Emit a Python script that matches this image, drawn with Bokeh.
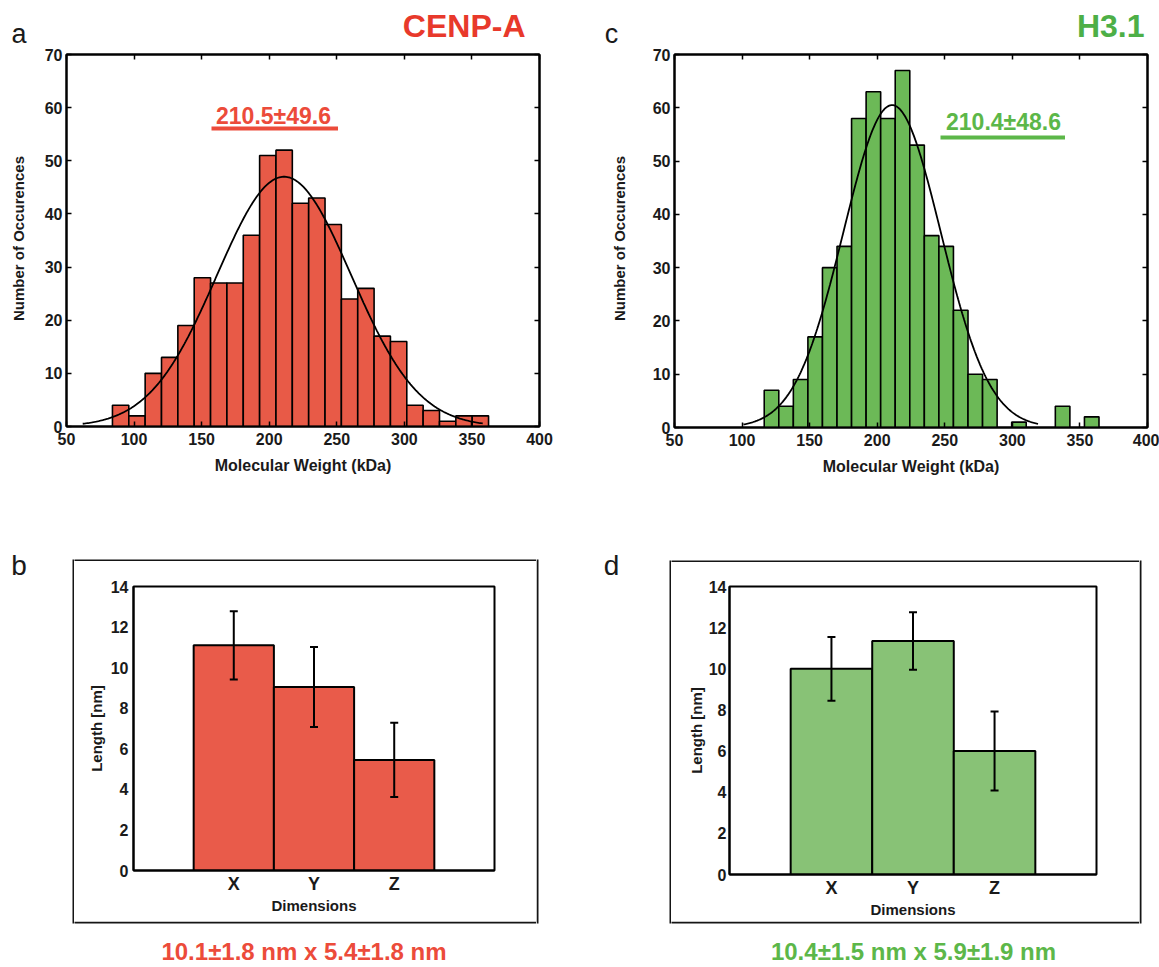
import numpy as np
from bokeh.plotting import figure
from bokeh.layouts import column, row
from bokeh.models import (Range1d, LinearAxis, FixedTicker,
                          ColumnDataSource, Whisker, TeeHead)
from bokeh.core.properties import value
from bokeh.embed import file_html
from bokeh.resources import INLINE

# ---------------- data ----------------
mw_ticks = [50, 100, 150, 200, 250, 300, 350, 400]
count_ticks = [0, 10, 20, 30, 40, 50, 60, 70]

cenpa_counts = [4, 2, 10, 13, 19, 28, 27, 27, 36, 51, 52, 42, 43, 38, 24, 26, 17, 16, 4, 3, 1, 2, 2]
cenpa_bin_start = 84.0
cenpa_bin_width = 12.1
cenpa_fit_center = 211.0
cenpa_fit_sigma = 49.6
cenpa_fit_peak = 47.0
cenpa_fit_span = [62.0, 358.0]
cenpa_stat = "210.5±49.6"

h31_counts = [7, 4, 9, 17, 30, 34, 58, 63, 58, 67, 53, 36, 34, 22, 10, 9, 0, 1, 0, 0, 4, 0, 2]
h31_bin_start = 116.4
h31_bin_width = 10.77
h31_fit_center = 211.0
h31_fit_sigma = 36.0
h31_fit_peak = 60.5
h31_fit_span = [101.0, 319.0]
h31_stat = "210.4±48.6"

dimensions = ["X", "Y", "Z"]
length_ticks = [0, 2, 4, 6, 8, 10, 12, 14]
cenpa_length = [11.1, 9.05, 5.45]
cenpa_length_err = [1.68, 1.97, 1.83]
h31_length = [10.0, 11.35, 6.0]
h31_length_err = [1.55, 1.4, 1.92]
cenpa_caption = "10.1±1.8 nm x 5.4±1.8 nm"
h31_caption = "10.4±1.5 nm x 5.9±1.9 nm"

# ---------------- style ----------------
FONT = "Liberation Sans"
INK = "#1a1a1a"
BOX = "#151515"
RED_HIST = "#E85A47"
GREEN_HIST = "#6CB957"
RED_BAR = "#E95B4A"
GREEN_BAR = "#88C276"
RED_TITLE = "#E8392B"
GREEN_TITLE = "#4DAF47"
RED_TEXT = "#EC4B3A"
GREEN_TEXT = "#5CB749"


def no_align(p):
    try:
        p.frame_align = False
    except Exception:
        pass
    return p


def new_fig(origin, size, box, xr, yr):
    ox, oy = origin
    W, H = size
    l, t, r, b = box
    p = figure(width=W, height=H, x_range=Range1d(*xr), y_range=Range1d(*yr),
               output_backend="svg", toolbar_location=None,
               min_border_left=int(l - ox), min_border_right=int(ox + W - r),
               min_border_top=int(t - oy), min_border_bottom=int(oy + H - b))
    no_align(p)
    p.grid.visible = False
    p.outline_line_color = "black"
    p.outline_line_width = 2
    p.background_fill_color = "white"
    p.border_fill_color = "white"

    def fx(px):
        return xr[0] + (px - l) / (r - l) * (xr[1] - xr[0])

    def fy(py):
        return yr[0] + (b - py) / (b - t) * (yr[1] - yr[0])
    return p, fx, fy


def text_panel(origin, size):
    """A bare panel whose data coordinates are page pixels (y downwards)."""
    ox, oy = origin
    W, H = size
    p = figure(width=W, height=H, x_range=Range1d(ox, ox + W), y_range=Range1d(oy + H, oy),
               output_backend="svg", toolbar_location=None,
               x_axis_type=None, y_axis_type=None, min_border=0)
    no_align(p)
    p.grid.visible = False
    p.outline_line_color = None
    p.background_fill_color = "white"
    p.border_fill_color = "white"
    return p


def put_text(p, x, y, txt, size, color=INK, bold=False, align="left", angle=0.0):
    p.text(x=[x], y=[y], text=[txt], text_font=value(FONT), angle=angle,
           text_font_style="bold" if bold else "normal", text_font_size=size,
           text_color=color, text_align=align, text_baseline="middle")


def put_rule(p, x0, y0, x1, y1):
    p.segment(x0=[x0], y0=[y0], x1=[x1], y1=[y1], line_color=BOX, line_width=2)


def style_axis(ax, label_size="16px"):
    ax.axis_line_width = 2
    ax.axis_line_color = "black"
    ax.minor_tick_line_color = None
    ax.major_tick_line_width = 1.5
    ax.major_label_text_font = FONT
    ax.major_label_text_font_style = "bold"
    ax.major_label_text_font_size = label_size
    ax.major_label_text_color = INK
    ax.axis_label_text_font = FONT
    ax.axis_label_text_font_style = "bold"
    ax.axis_label_text_color = INK


def blank_axis(ticks):
    return LinearAxis(ticker=FixedTicker(ticks=ticks),
                      major_label_overrides={t: "" for t in ticks},
                      major_label_standoff=0, major_tick_in=5, major_tick_out=0,
                      minor_tick_line_color=None, axis_line_width=2,
                      major_tick_line_width=1.5)


def make_hist(origin, size, box, counts, bin_start, bin_width, fit_c, fit_s, fit_a,
              fit_span, fill, stat, stat_color, stat_xy, underline):
    p, fx, fy = new_fig(origin, size, box, (50, 400), (0, 70))
    n = len(counts)
    lefts = [bin_start + i * bin_width for i in range(n)]
    keep = [i for i in range(n) if counts[i] > 0]
    src = ColumnDataSource(dict(left=[lefts[i] for i in keep],
                                right=[lefts[i] + bin_width for i in keep],
                                top=[counts[i] for i in keep]))
    p.quad(left="left", right="right", bottom=0, top="top", source=src,
           fill_color=fill, line_color="black", line_width=1.6)
    xs = np.linspace(fit_span[0], fit_span[1], 300)
    ys = fit_a * np.exp(-0.5 * ((xs - fit_c) / fit_s) ** 2)
    p.line(xs, ys, line_color="black", line_width=1.8)

    p.yaxis.ticker = FixedTicker(ticks=count_ticks)
    style_axis(p.yaxis[0])
    p.yaxis.major_tick_in = 5
    p.yaxis.major_tick_out = 0
    p.yaxis.major_label_standoff = 4

    p.xaxis.ticker = FixedTicker(ticks=mw_ticks)
    p.xaxis.axis_label = "Molecular Weight (kDa)"
    style_axis(p.xaxis[0])
    p.xaxis.major_tick_in = 5
    p.xaxis.major_tick_out = 0
    p.xaxis.major_label_standoff = 6
    p.xaxis.axis_label_standoff = 9
    p.xaxis.axis_label_text_font_size = "16px"
    p.add_layout(blank_axis(mw_ticks), "above")
    p.add_layout(blank_axis(count_ticks), "right")

    p.text(x=[fx(stat_xy[0])], y=[fy(stat_xy[1])], text=[stat], text_font=value(FONT),
           text_font_style="bold", text_font_size="23px", text_color=stat_color,
           text_align="center", text_baseline="middle")
    p.segment(x0=[fx(underline[0])], x1=[fx(underline[1])], y0=[fy(underline[2])],
              y1=[fy(underline[2])], line_color=stat_color, line_width=4)
    return p


def make_bars(origin, size, box, vals, errs, fill, ylabel_standoff, ytick_standoff):
    p, fx, fy = new_fig(origin, size, box, (-0.25, 4.25), (0, 14))
    xpos = list(range(1, len(dimensions) + 1))
    p.vbar(x=xpos, width=1, top=vals, bottom=0, fill_color=fill, line_color="black",
           line_width=2)
    esrc = ColumnDataSource(dict(x=xpos, upper=[v + e for v, e in zip(vals, errs)],
                                 lower=[v - e for v, e in zip(vals, errs)]))
    p.add_layout(Whisker(source=esrc, base="x", upper="upper", lower="lower",
                         line_width=2, line_color="black", level="overlay",
                         upper_head=TeeHead(size=8, line_width=2, line_color="black"),
                         lower_head=TeeHead(size=8, line_width=2, line_color="black")))

    p.yaxis.ticker = FixedTicker(ticks=length_ticks)
    p.yaxis.axis_label = "Length [nm]"
    style_axis(p.yaxis[0])
    p.yaxis.major_tick_in = 0
    p.yaxis.major_tick_out = 0
    p.yaxis.major_label_standoff = ytick_standoff
    p.yaxis.axis_label_standoff = ylabel_standoff
    p.yaxis.axis_label_text_font_size = "15px"

    p.xaxis.ticker = FixedTicker(ticks=xpos)
    p.xaxis.major_label_overrides = {x: d for x, d in zip(xpos, dimensions)}
    p.xaxis.axis_label = "Dimensions"
    style_axis(p.xaxis[0], "18px")
    p.xaxis.major_tick_in = 0
    p.xaxis.major_tick_out = 0
    p.xaxis.major_label_standoff = 3
    p.xaxis.axis_label_standoff = 0
    p.xaxis.axis_label_text_font_size = "15px"
    return p


HALF_PI = np.pi / 2

# ---------------- top-left block: panel a (x 0..580, y 0..540) ----------------
strip_a = text_panel((0, 0), (34, 540))
put_text(strip_a, 18.6, 33, "a", "27px", align="center")
put_text(strip_a, 18, 238, "Number of Occurences", "15px", bold=True, align="center",
         angle=HALF_PI)
band_a = text_panel((34, 0), (546, 44))
put_text(band_a, 525, 25, "CENP-A", "32px", RED_TITLE, bold=True, align="right")
pa = make_hist((34, 44), (546, 496), (66, 54, 539, 426), cenpa_counts, cenpa_bin_start,
               cenpa_bin_width, cenpa_fit_center, cenpa_fit_sigma, cenpa_fit_peak,
               cenpa_fit_span, RED_HIST, cenpa_stat, RED_TEXT, (273, 115), (211, 337.5, 128))
block_a = row(strip_a, column(band_a, pa, spacing=0), spacing=0)

# ---------------- top-right block: panel c (x 580..1159, y 0..540) ----------------
strip_c = text_panel((580, 0), (52, 540))
put_text(strip_c, 611, 33, "c", "27px", align="center")
put_text(strip_c, 619, 238, "Number of Occurences", "15px", bold=True, align="center",
         angle=HALF_PI)
band_c = text_panel((632, 0), (527, 44))
put_text(band_c, 1144, 25, "H3.1", "32px", GREEN_TITLE, bold=True, align="right")
pc = make_hist((632, 44), (527, 496), (674, 54, 1147, 427), h31_counts, h31_bin_start,
               h31_bin_width, h31_fit_center, h31_fit_sigma, h31_fit_peak,
               h31_fit_span, GREEN_HIST, h31_stat, GREEN_TEXT, (1003, 121), (940, 1064.5, 137))
block_c = row(strip_c, column(band_c, pc, spacing=0), spacing=0)

# ---------------- bottom-left block: panel b (x 0..580, y 540..965) ----------------
left_b = text_panel((0, 540), (74, 425))
put_text(left_b, 18.5, 565, "b", "28px", align="center")
put_rule(left_b, 73, 559, 73, 923)
top_b = text_panel((74, 540), (462, 21))
put_rule(top_b, 72, 560, 538, 560)
pb = make_bars((74, 561), (462, 360), (133, 586, 494, 870), cenpa_length, cenpa_length_err,
               RED_BAR, 3, 5)
bot_b = text_panel((74, 921), (462, 44))
put_rule(bot_b, 72, 922, 538, 922)
put_text(bot_b, 303.5, 951, cenpa_caption, "24px", RED_TEXT, bold=True, align="center")
right_b = text_panel((536, 540), (44, 425))
put_rule(right_b, 537, 559, 537, 923)
block_b = row(left_b, column(top_b, pb, bot_b, spacing=0), right_b, spacing=0)

# ---------------- bottom-right block: panel d (x 580..1159, y 540..965) ----------------
left_d = text_panel((580, 540), (91, 425))
put_text(left_d, 611, 565, "d", "28px", align="center")
put_rule(left_d, 670, 560, 670, 923)
top_d = text_panel((671, 540), (468, 22))
put_rule(top_d, 669, 561, 1141, 561)
pd = make_bars((671, 562), (468, 359), (729, 586, 1096, 874), h31_length, h31_length_err,
               GREEN_BAR, 1, 3)
bot_d = text_panel((671, 921), (468, 44))
put_rule(bot_d, 669, 922, 1141, 922)
put_text(bot_d, 913, 951, h31_caption, "24px", GREEN_TEXT, bold=True, align="center")
right_d = text_panel((1139, 540), (20, 425))
put_rule(right_d, 1140, 560, 1140, 923)
block_d = row(left_d, column(top_d, pd, bot_d, spacing=0), right_d, spacing=0)

layout = column(row(block_a, block_c, spacing=0), row(block_b, block_d, spacing=0), spacing=0)
open("out.html", "w").write(file_html(layout, INLINE))
